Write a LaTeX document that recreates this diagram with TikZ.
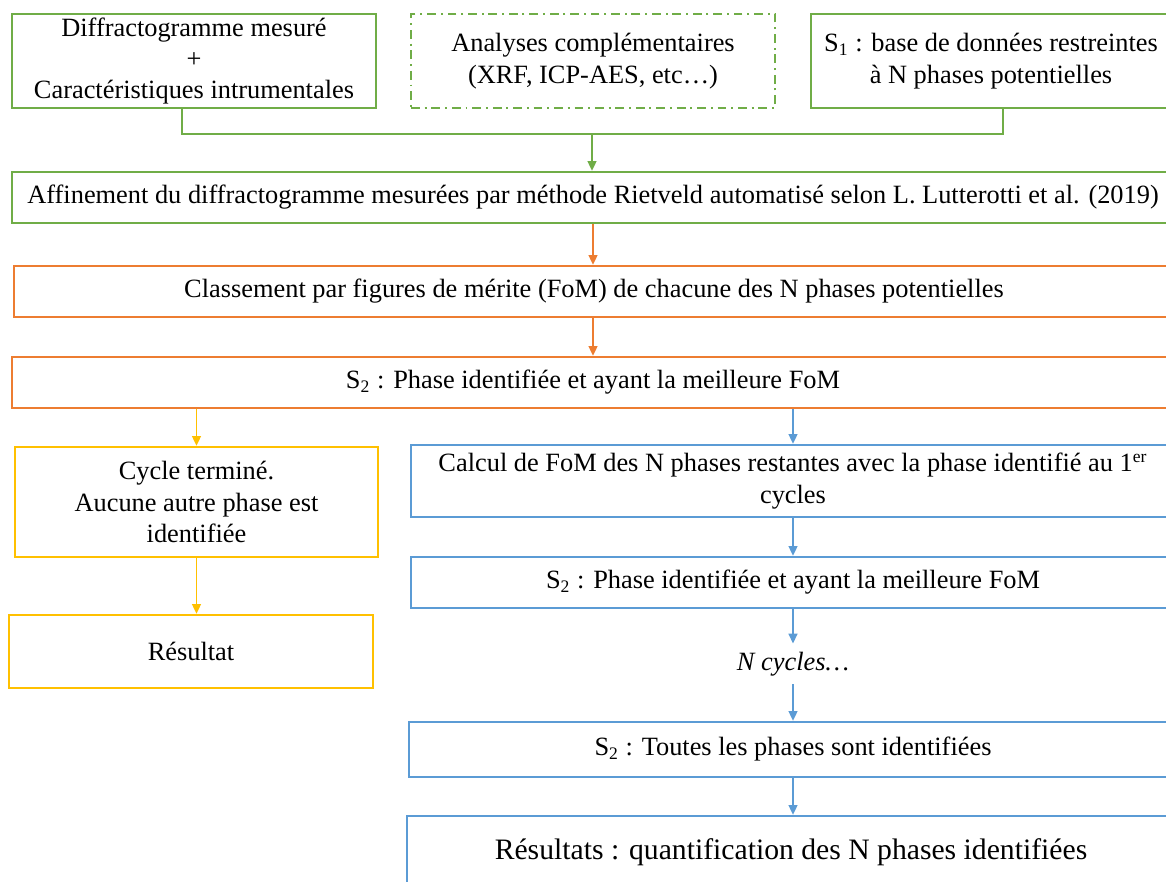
\documentclass[tikz,border=0pt]{standalone}
\usepackage{fontspec}
\setmainfont{Liberation Serif}
\usepackage{tikz}
\usetikzlibrary{arrows.meta}
\definecolor{vert}{HTML}{70AD47}
\definecolor{orng}{HTML}{ED7D31}
\definecolor{jaune}{HTML}{FFC000}
\definecolor{bleu}{HTML}{5B9BD5}
\newcommand{\pxu}{0.455pt}

\begin{document}
\begin{tikzpicture}[x=\pxu, y=-\pxu,
    every node/.style={font=\fontsize{12}{14.3}\selectfont, align=center, inner sep=0pt},
    boite/.style={draw=#1, line width=1pt}]
\useasboundingbox (0,0) rectangle (1166,882);
\clip (0,0) rectangle (1166,882);

%\tikzstyle{boite}=[rectangle,draw,thick]
\begin{scope}
    \node[boite=vert, minimum width=364*\pxu, minimum height=94*\pxu] (diffr) at (194,61) {Diffractogramme mesuré\\+\\Caractéristiques intrumentales};
    \node[boite=vert, dash pattern=on 4pt off 2.2pt on 0.9pt off 2.2pt, minimum width=364*\pxu, minimum height=94*\pxu] (analyses) at (593,61) {Analyses complémentaires\\(XRF, ICP-AES, etc…)};
    \node[boite=vert, minimum width=360*\pxu, minimum height=94*\pxu] (base) at (991,61) {S\textsubscript{1} : base de données restreintes\\à N phases potentielles};
    \coordinate (jonc) at (592,134);
    \node[boite=vert, minimum width=1162*\pxu, minimum height=51*\pxu] (affin) at (593,197.5) {Affinement du diffractogramme mesurées par méthode Rietveld automatisé selon L. Lutterotti et al. (2019)};
    \node[boite=orng, minimum width=1160*\pxu, minimum height=51*\pxu] (classe) at (594,291.5) {Classement par figures de mérite (FoM) de chacune des N phases potentielles};
    \node[boite=orng, minimum width=1162*\pxu, minimum height=51*\pxu] (sdeux) at (593,382.5) {S\textsubscript{2} : Phase identifiée et ayant la meilleure FoM};
    \node[boite=jaune, minimum width=363*\pxu, minimum height=110*\pxu] (cycle) at (196.5,502) {Cycle terminé.\\Aucune autre phase est\\identifiée};
    \node[boite=jaune, minimum width=364*\pxu, minimum height=73*\pxu] (resultat) at (191,651.5) {Résultat};
    \node[boite=bleu, minimum width=764*\pxu, minimum height=72*\pxu] (calcul) at (793,481) {Calcul de FoM des N phases restantes avec la phase identifié au 1\textsuperscript{er}\\cycles};
    \node[boite=bleu, minimum width=764*\pxu, minimum height=51*\pxu] (sdeuxb) at (793,582.5) {S\textsubscript{2} : Phase identifiée et ayant la meilleure FoM};
    \node[minimum height=40*\pxu] (ncyc) at (793,664) {\itshape N cycles…};
    \node[boite=bleu, minimum width=768*\pxu, minimum height=55*\pxu] (toutes) at (793,749.5) {S\textsubscript{2} : Toutes les phases sont identifiées};
    \node[boite=bleu, minimum width=768*\pxu, minimum height=72*\pxu, font=\fontsize{13.5}{16}\selectfont] (final) at (791,852) {Résultats : quantification des N phases identifiées};
\end{scope}

\begin{scope}[>={Triangle[length=4.5pt,width=4pt]}, every edge/.style={draw, line width=0.9pt}]
    \draw[vert, line width=0.9pt] ([xshift=-12*\pxu]diffr.south) |- (jonc) -| ([xshift=12*\pxu]base.south);
    \path [->, vert] (jonc) edge (jonc |- affin.north);

    \path [->, orng] (affin.south) edge (affin.south |- classe.north);
    \path [->, orng] (classe.south -| affin.south) edge (affin.south |- sdeux.north);

    \path [->, jaune] (cycle.north |- sdeux.south) edge (cycle.north);
    \path [->, jaune] (cycle.south) edge (cycle.south |- resultat.north);

    \path [->, bleu] (calcul.north |- sdeux.south) edge (calcul.north);
    \path [->, bleu] (calcul) edge (sdeuxb);
    \path [->, bleu] (sdeuxb.south) edge (sdeuxb.south |- ncyc.north);
    \path [->, bleu] (ncyc.south -| sdeuxb.south) edge (toutes.north -| sdeuxb.south);
    \path [->, bleu] (toutes.south -| sdeuxb.south) edge (final.north -| sdeuxb.south);
\end{scope}
\end{tikzpicture}
\end{document}
